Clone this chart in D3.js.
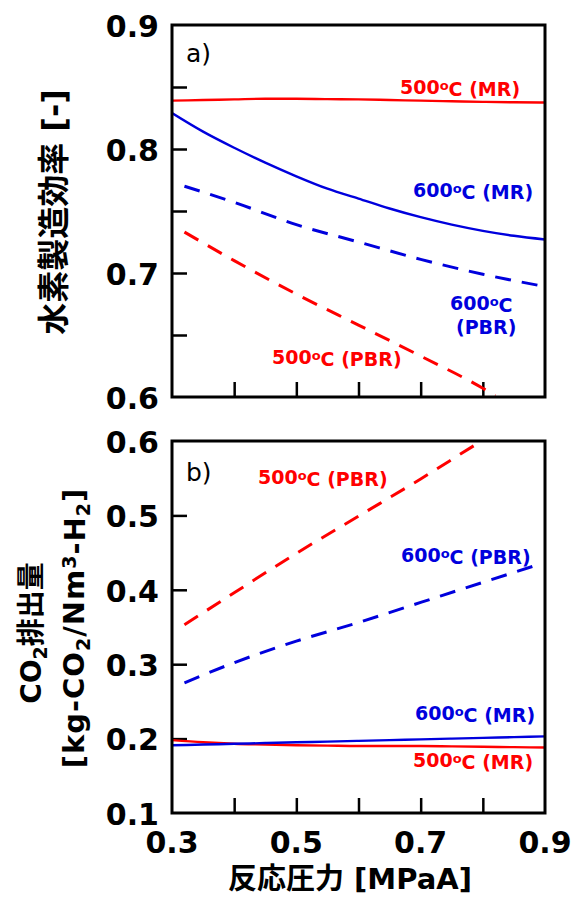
<!DOCTYPE html>
<html>
<head>
<meta charset="utf-8">
<script src="https://cdn.jsdelivr.net/npm/d3@7"></script>
<style>
body { margin: 0; background: #fff; }
text { font-family: "DejaVu Sans", "Noto Sans CJK JP", sans-serif; }
</style>
</head>
<body>
<svg id="chart" width="581" height="898"></svg>
<script>
// reaction pressure [MPaA]
var pMR = [0.3, 0.35, 0.4, 0.45, 0.5, 0.55, 0.6, 0.65, 0.7, 0.75, 0.8, 0.85, 0.9];
var pPBR = [0.32, 0.4, 0.5, 0.6, 0.7, 0.8, 0.89];
var pPBR500 = [0.32, 0.4, 0.5, 0.6, 0.7, 0.8, 0.82];

// a) hydrogen production efficiency [-]
var effMR500 = [0.839, 0.8395, 0.840, 0.8405, 0.8405, 0.8402, 0.840, 0.8395, 0.839, 0.8385, 0.838, 0.8377, 0.8375];
var effMR600 = [0.829, 0.814, 0.801, 0.789, 0.778, 0.768, 0.760, 0.752, 0.745, 0.739, 0.734, 0.730, 0.727];
var effPBR600 = [0.770, 0.757, 0.739, 0.725, 0.711, 0.699, 0.690];
var effPBR500 = [0.733, 0.710, 0.683, 0.658, 0.633, 0.607, 0.601];

// b) CO2 emission [kg-CO2/Nm3-H2]
var co2MR500 = [0.198, 0.195, 0.193, 0.192, 0.191, 0.1905, 0.190, 0.190, 0.190, 0.1895, 0.189, 0.1885, 0.188];
var co2MR600 = [0.191, 0.192, 0.193, 0.194, 0.195, 0.196, 0.197, 0.198, 0.199, 0.200, 0.201, 0.202, 0.203];
var co2PBR500 = [0.353, 0.396, 0.449, 0.499, 0.549, 0.601, 0.611];
var co2PBR600 = [0.275, 0.302, 0.331, 0.356, 0.383, 0.410, 0.434];

var xTicks = [0.3, 0.4, 0.5, 0.6, 0.7, 0.8, 0.9];
var xLabels = [0.3, 0.5, 0.7, 0.9];
var yTicksA = [0.65, 0.7, 0.75, 0.8, 0.85];
var yLabelsA = [0.6, 0.7, 0.8, 0.9];
var yTicksB = [0.2, 0.3, 0.4, 0.5];
var yLabelsB = [0.1, 0.2, 0.3, 0.4, 0.5, 0.6];

var RED = "#ff0000", BLUE = "#0000dd";

var svg = d3.select("#chart");

var x = d3.scaleLinear().domain([0.3, 0.9]).range([172, 545]);
var yA = d3.scaleLinear().domain([0.6, 0.9]).range([397, 25]);
var yB = d3.scaleLinear().domain([0.1, 0.6]).range([813, 441]);

svg.append("defs").selectAll("clipPath")
    .data([["clipA", yA], ["clipB", yB]])
    .join("clipPath")
    .attr("id", d => d[0])
    .append("rect")
    .attr("x", x.range()[0])
    .attr("width", x.range()[1] - x.range()[0])
    .attr("y", d => d[1].range()[1])
    .attr("height", d => d[1].range()[0] - d[1].range()[1]);

function drawPanel(y, yTicks, yLabels, clipId, series, showX) {
    var g = svg.append("g");

    // inward ticks
    g.append("g")
        .attr("transform", "translate(0," + y.range()[0] + ")")
        .call(d3.axisBottom(x).tickValues(xTicks.slice(1, -1)).tickSize(-15).tickFormat(""))
        .call(a => a.select(".domain").remove())
        .call(a => a.selectAll("line").attr("stroke", "#000").attr("stroke-width", 2.5));

    g.append("g")
        .attr("transform", "translate(" + x.range()[0] + ",0)")
        .call(d3.axisLeft(y).tickValues(yTicks).tickSize(-15).tickFormat(""))
        .call(a => a.select(".domain").remove())
        .call(a => a.selectAll("line").attr("stroke", "#000").attr("stroke-width", 2.5));

    // tick labels
    g.selectAll(".ylab")
        .data(yLabels)
        .join("text")
        .attr("x", 159)
        .attr("y", d => y(d) + 1)
        .attr("dy", "0.36em")
        .attr("text-anchor", "end")
        .style("font-size", "30px")
        .style("font-weight", "bold")
        .text(d => d.toFixed(1));

    if (showX) {
        g.selectAll(".xlab")
            .data(xLabels)
            .join("text")
            .attr("x", d => x(d))
            .attr("y", y.range()[0] + 29)
            .attr("dy", "0.36em")
            .attr("text-anchor", "middle")
            .style("font-size", "30px")
            .style("font-weight", "bold")
            .text(d => d.toFixed(1));
    }

    var line = d3.line().x(d => x(d[0])).y(d => y(d[1])).curve(d3.curveMonotoneX);

    g.append("g")
        .attr("clip-path", "url(#" + clipId + ")")
        .selectAll("path")
        .data(series)
        .join("path")
        .attr("d", s => line(d3.zip(s.p, s.v)))
        .attr("fill", "none")
        .attr("stroke", s => s.color)
        .attr("stroke-width", s => s.dash ? 3 : 2.4)
        .attr("stroke-dasharray", s => s.dash ? "16,11" : null);

    // frame
    g.append("rect")
        .attr("x", x.range()[0])
        .attr("y", y.range()[1])
        .attr("width", x.range()[1] - x.range()[0])
        .attr("height", y.range()[0] - y.range()[1])
        .attr("fill", "none")
        .attr("stroke", "#000")
        .attr("stroke-width", 3);
}

drawPanel(yA, yTicksA, yLabelsA, "clipA", [
    {p: pMR, v: effMR500, color: RED, dash: false},
    {p: pMR, v: effMR600, color: BLUE, dash: false},
    {p: pPBR, v: effPBR600, color: BLUE, dash: true},
    {p: pPBR500, v: effPBR500, color: RED, dash: true}
], false);

drawPanel(yB, yTicksB, yLabelsB, "clipB", [
    {p: pMR, v: co2MR500, color: RED, dash: false},
    {p: pMR, v: co2MR600, color: BLUE, dash: false},
    {p: pPBR, v: co2PBR600, color: BLUE, dash: true},
    {p: pPBR500, v: co2PBR500, color: RED, dash: true}
], true);

// series labels, "500ºC (MR)" with a raised small o
function tempLabel(px, py, temp, tail, color) {
    var t = svg.append("text")
        .attr("x", px)
        .attr("y", py)
        .attr("dy", "0.36em")
        .attr("fill", color)
        .style("font-size", "19px")
        .style("font-weight", "bold");
    t.append("tspan").text(temp);
    t.append("tspan").attr("dy", "-0.3em").style("font-size", "13px").text("o");
    t.append("tspan").attr("dy", "0.3em").text("C" + tail);
    return t;
}

tempLabel(400, 87, "500", " (MR)", RED);
tempLabel(413, 190, "600", " (MR)", BLUE);
tempLabel(450, 303, "600", "", BLUE);
svg.append("text").attr("x", 456).attr("y", 327).attr("dy", "0.36em")
    .attr("fill", BLUE).style("font-size", "19px").style("font-weight", "bold").text("(PBR)");
tempLabel(272, 357, "500", " (PBR)", RED);

tempLabel(258, 477, "500", " (PBR)", RED);
tempLabel(401, 555, "600", " (PBR)", BLUE);
tempLabel(415, 713, "600", " (MR)", BLUE);
tempLabel(413, 760, "500", " (MR)", RED);

// panel tags
svg.append("text").attr("x", 186).attr("y", 53).attr("dy", "0.36em")
    .style("font-size", "25px").text("a)");
svg.append("text").attr("x", 186).attr("y", 472).attr("dy", "0.36em")
    .style("font-size", "25px").text("b)");

// axis titles
svg.append("text")
    .attr("transform", "translate(53,212) rotate(-90)")
    .attr("dy", "0.36em")
    .attr("text-anchor", "middle")
    .style("font-size", "32px")
    .style("font-weight", "bold")
    .text("水素製造効率 [-]");

var t1 = svg.append("text")
    .attr("transform", "translate(31,633) rotate(-90)")
    .attr("dy", "0.36em")
    .attr("text-anchor", "middle")
    .style("font-size", "28px")
    .style("font-weight", "bold");
t1.append("tspan").text("CO");
t1.append("tspan").attr("dy", "0.3em").style("font-size", "19px").text("2");
t1.append("tspan").attr("dy", "-0.2em").text("排出量");

var t2 = svg.append("text")
    .attr("transform", "translate(74,628) rotate(-90)")
    .attr("dy", "0.36em")
    .attr("text-anchor", "middle")
    .style("font-size", "29px")
    .style("letter-spacing", "1px")
    .style("font-weight", "bold");
t2.append("tspan").text("[kg-CO");
t2.append("tspan").attr("dy", "0.3em").style("font-size", "19px").text("2");
t2.append("tspan").attr("dy", "-0.2em").text("/Nm");
t2.append("tspan").attr("dy", "-0.45em").style("font-size", "19px").text("3");
t2.append("tspan").attr("dy", "0.3em").text("-H");
t2.append("tspan").attr("dy", "0.3em").style("font-size", "19px").text("2");
t2.append("tspan").attr("dy", "-0.2em").text("]");

svg.append("text")
    .attr("x", 350)
    .attr("y", 879)
    .attr("dy", "0.36em")
    .attr("text-anchor", "middle")
    .style("font-size", "29px")
    .style("font-weight", "bold")
    .text("反応圧力 [MPaA]");
</script>
</body>
</html>
